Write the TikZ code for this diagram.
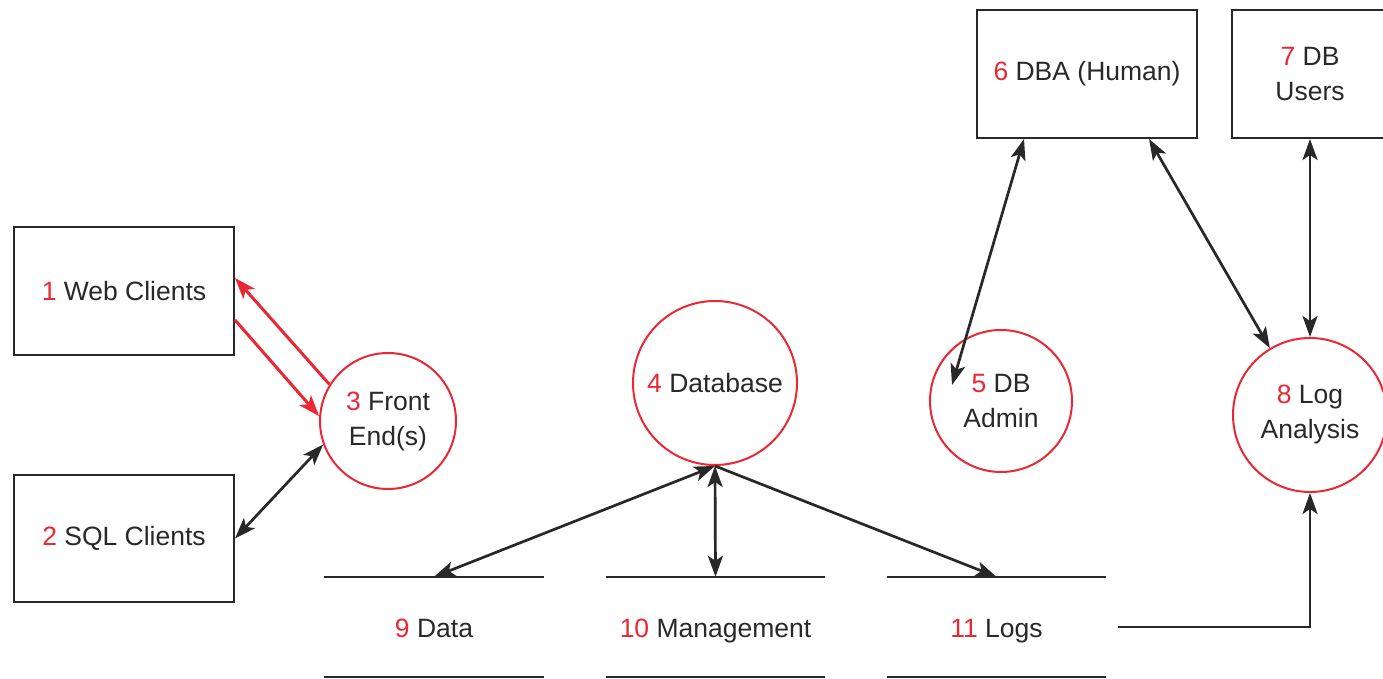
\documentclass[tikz,border=0pt]{standalone}
\usepackage{fontspec}
\setmainfont{Liberation Sans}
\usetikzlibrary{arrows.meta,calc}
\definecolor{myred}{RGB}{232,40,50}
\definecolor{ink}{RGB}{40,40,40}
\newcommand{\nr}[1]{\textcolor{myred}{#1}}
\begin{document}
\begin{tikzpicture}[x=1pt,y=1pt,
  >={Stealth[length=21pt,width=15pt,inset=5pt]},
  every node/.style={font=\fontsize{26.5}{35}\selectfont, text=ink},
  box/.style={draw=ink, line width=2pt, minimum width=220pt, minimum height=128pt, align=center, inner sep=0pt},
  proc/.style={circle, draw=myred, line width=2pt, align=center, inner sep=0pt},
  store/.style={minimum width=219pt, minimum height=100pt, inner sep=0pt, text height=23pt, text depth=2pt},
  storeline/.style={draw=ink, line width=2pt},
  link/.style={draw=ink, line width=2.7pt},
  redlink/.style={draw=myred, line width=3pt}]
\useasboundingbox (0,0) rectangle (1383,679);
\node[box] (web) at (124,388) {\nr{1} Web Clients};
\node[box, minimum height=127pt] (sql) at (124,140.5) {\nr{2} SQL Clients};
\node[proc, minimum size=136pt] (fe) at (388,258) {\nr{3} Front\\End(s)};
\node[proc, minimum size=164pt] (db) at (715,296) {\nr{4} Database};
\node[proc, minimum size=142pt] (adm) at (1001,278) {\nr{5} DB\\Admin};
\node[box] (dba) at (1087,605) {\nr{6} DBA (Human)};
\node[box, minimum width=156pt] (users) at (1310,605) {\nr{7} DB\\Users};
\node[proc, minimum size=154pt] (log) at (1310,264) {\nr{8} Log\\Analysis};
\node[store] (data) at (434,52) {\nr{9} Data};
\node[store] (mgmt) at (715.5,52) {\nr{10} Management};
\node[store] (logs) at (996.5,52) {\nr{11} Logs};
\foreach \s in {data,mgmt,logs} {
  \draw[storeline] (\s.north west) -- (\s.north east) (\s.south west) -- (\s.south east);
}
\draw[redlink,->] (fe.148) -- ([yshift=13pt]web.east);
\draw[redlink,->] ([yshift=-29pt]web.east) -- (fe.176);
\draw[link,<->] (sql.east) -- (fe.200);
\draw[link,<->] (db.south) -- (data.north);
\draw[link,<->] (db.south) -- (mgmt.north);
\draw[link,->] (db.south) -- (logs.north);
\draw[link,<->] ([xshift=48pt]dba.south west) -- ($(adm.center)+(-49,16)$);
\draw[link,<->] ([xshift=-49pt]dba.south east) -- (log.121);
\draw[link,<->] (users.south) -- (log.north);
\draw[link,->] ([xshift=12pt]logs.east) -| (log.south);
\end{tikzpicture}
\end{document}
